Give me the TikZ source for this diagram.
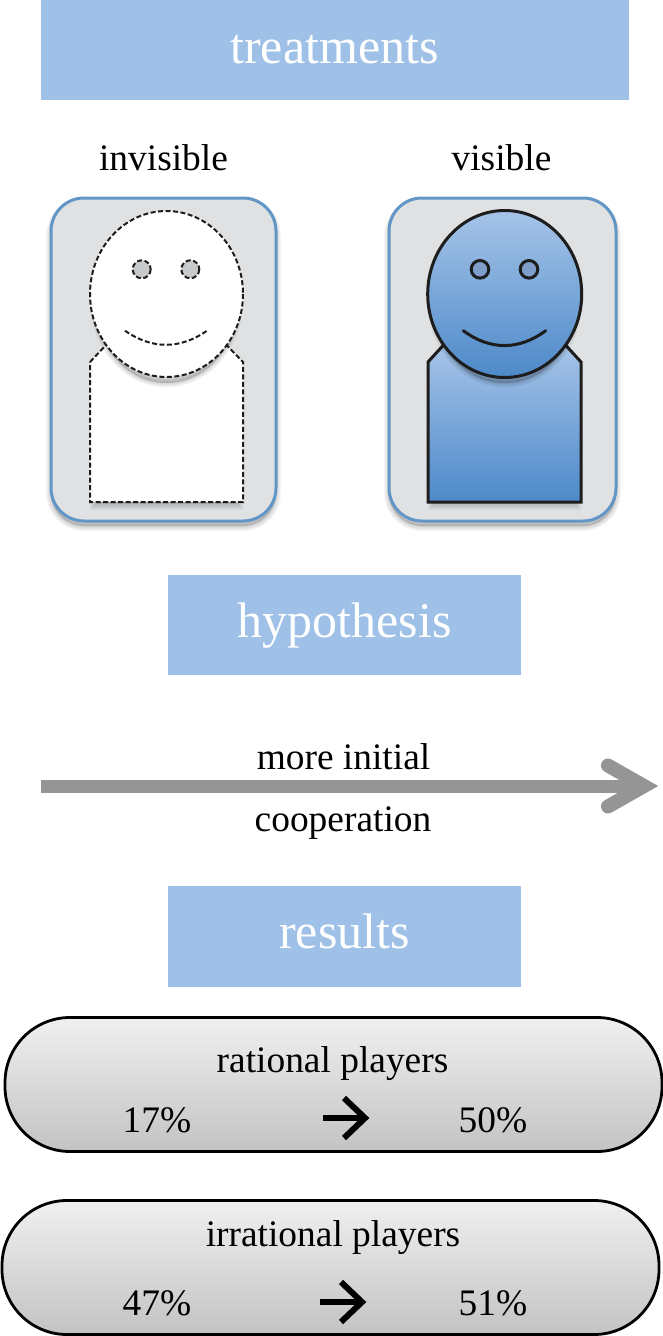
\documentclass[tikz,border=0pt]{standalone}
\usepackage{fontspec}
\setmainfont{Liberation Serif}
\definecolor{hdr}{HTML}{9FC1E7}
\definecolor{cardfill}{HTML}{E0E1E3}
\definecolor{cardline}{HTML}{6196C6}
\definecolor{shadetop}{HTML}{A6C4E8}
\definecolor{shadebot}{HTML}{4D89C9}
\definecolor{eyeblue}{HTML}{7F9FCB}
\definecolor{eyegrey}{HTML}{C9CACB}
\definecolor{arrowgrey}{HTML}{959595}
\definecolor{pilltop}{HTML}{F0F0F0}
\definecolor{pillbot}{HTML}{C3C3C3}
\definecolor{ink}{HTML}{1D1D1D}
\tikzset{
  x=1pt,y=-1pt,
  headertext/.style={text=white,font=\fontsize{50}{50}\selectfont,anchor=base,inner sep=0pt},
  label/.style={font=\fontsize{37.4}{37.4}\selectfont,text=black,anchor=base,inner sep=0pt},
  card/.style={fill=cardfill,draw=cardline,line width=3pt,rounded corners=33pt},
  pill/.style={top color=pilltop,bottom color=pillbot,draw=black,line width=2.8pt,rounded corners=65pt,minimum height=134pt,inner sep=0pt},
  solidpart/.style={top color=shadetop,bottom color=shadebot,draw=ink,line width=3pt,line join=miter},
  dashpart/.style={fill=white,draw=ink,line width=2pt,dash pattern=on 5pt off 2.5pt,line join=miter},
  solidthin/.style={draw=ink,line width=3pt,line cap=round},
  dashthin/.style={draw=ink,line width=2pt,dash pattern=on 5pt off 2.5pt},
  trendarrow/.style={draw=arrowgrey,line width=13pt},
  trendhead/.style={draw=arrowgrey,line width=14pt,line cap=round,line join=miter},
  blackarrow/.style={draw=black,line width=6pt},
  softcast/.style={fill=black,draw=black,opacity=.035},
  bodycast/.style={fill=black,draw=black,opacity=.045},
}
\begin{document}
\begin{tikzpicture}
\useasboundingbox (0,0) rectangle (663,1336);
% headers
\fill[hdr] (41,0) rectangle (629,100);
\node[headertext] (treat) at (334.5,63) {treatments};
\fill[hdr] (168,575) rectangle (521,675);
\node[headertext] (hypo) at (344.5,637) {hypothesis};
\fill[hdr] (168,886) rectangle (521,987);
\node[headertext] (res) at (344.5,948) {results};
% labels
\node[label] (invis) at (163.5,170) {invisible};
\node[label] (vis) at (501.5,170) {visible};
% left card
\foreach \w in {10,8,6,4,2}{\path[softcast,line width=\w pt,rounded corners=33pt] (51,203) rectangle (276,526);}
\draw[card] (51,198) rectangle (276,521);
\foreach \w in {14,11,8,5,2}{\path[bodycast,line width=\w pt] (97,370) -- (111,356) -- (222,356) -- (236,370) -- (236,503) -- (97,503) -- cycle;}
\path[dashpart] (90,362) -- (106,345) -- (226.5,345) -- (243,362) -- (243,502) -- (90,502) -- cycle;
\foreach \w in {9,7,5,3,1}{\path[softcast,line width=\w pt] (166.5,301) ellipse [x radius=72,y radius=82];}
\path[dashpart] (166.5,294) ellipse [x radius=76.5,y radius=83];
\path[dashthin,fill=eyegrey] (141.7,269.3) circle [radius=9];
\path[dashthin,fill=eyegrey] (190.3,269.3) circle [radius=9];
\draw[dashthin] (125,330.7) .. controls (152,349.5) and (180,349.5) .. (207,330.7);
% right card
\foreach \w in {10,8,6,4,2}{\path[softcast,line width=\w pt,rounded corners=33pt] (389,203) rectangle (616,526);}
\draw[card] (389,198) rectangle (616,521);
\foreach \w in {14,11,8,5,2}{\path[bodycast,line width=\w pt] (435,370) -- (449,356) -- (560,356) -- (574,370) -- (574,503) -- (435,503) -- cycle;}
\path[solidpart] (428,362) -- (443.5,345) -- (565.5,345) -- (581,362) -- (581,502) -- (428,502) -- cycle;
\foreach \w in {9,7,5,3,1}{\path[softcast,line width=\w pt] (504.7,301) ellipse [x radius=73,y radius=82];}
\path[solidpart] (504.7,294) ellipse [x radius=77,y radius=83.5];
\path[solidthin,fill=eyeblue] (480,269.3) circle [radius=8.8];
\path[solidthin,fill=eyeblue] (529,269.3) circle [radius=8.8];
\draw[solidthin] (463.3,330.7) .. controls (490,350.5) and (519,350.5) .. (545.7,330.7);
% trend arrow
\coordinate (arrowstart) at (41,786);
\coordinate (arrowvertex) at (644,786);
\coordinate (headtop) at (608,765.5);
\coordinate (headbot) at (608,806.5);
\draw[trendarrow] (arrowstart) -- (arrowvertex);
\draw[trendhead] (headtop) -- (arrowvertex) -- (headbot);
\node[label] (more) at (343.5,769) {more initial};
\node[label] (coop) at (343,831) {cooperation};
% pills
\node[pill,minimum width=657pt] (p1) at (333.5,1084.5) {};
\node[pill,minimum width=657pt] (p2) at (330.5,1267.5) {};
\node[label] (ra) at (332.5,1072) {rational players};
\node[label] (r1) at (157,1132) {17\%};
\node[label] (r2) at (493,1132) {50\%};
\node[label] (ia) at (333,1246) {irrational players};
\node[label] (i1) at (157,1315) {47\%};
\node[label] (i2) at (493,1315) {51\%};
\coordinate (a1s) at (323,1118); \coordinate (a1e) at (365,1118);
\coordinate (a1t) at (344,1098); \coordinate (a1b) at (344,1138);
\draw[blackarrow] (a1s) -- (a1e);
\draw[blackarrow,line join=miter] (a1t) -- (a1e) -- (a1b);
\coordinate (a2s) at (320,1302); \coordinate (a2e) at (362,1302);
\coordinate (a2t) at (341,1282); \coordinate (a2b) at (341,1322);
\draw[blackarrow] (a2s) -- (a2e);
\draw[blackarrow,line join=miter] (a2t) -- (a2e) -- (a2b);
\end{tikzpicture}
\end{document}
